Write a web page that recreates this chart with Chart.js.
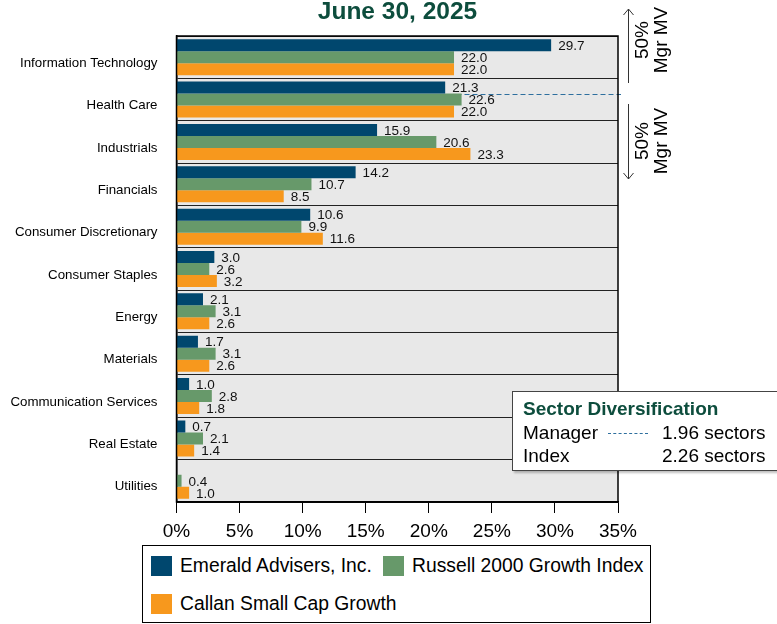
<!DOCTYPE html>
<html><head><meta charset="utf-8">
<script src="https://cdn.jsdelivr.net/npm/chart.js"></script>
<style>
html,body{margin:0;padding:0;background:#fff;}
#wrap{position:relative;width:777px;height:624px;overflow:hidden;font-family:"Liberation Sans",Arial,sans-serif;color:#000;}
#c{position:absolute;left:0;top:0;}
.abs{position:absolute;white-space:nowrap;}
.rot{position:absolute;width:90px;height:40px;text-align:center;font-size:19px;line-height:19px;transform:rotate(-90deg);transform-origin:50% 50%;}
.sw{position:absolute;width:21px;height:20px;}
.lt{position:absolute;font-size:19.3px;line-height:20px;}
</style></head><body>
<div id="wrap">
<canvas id="c" width="777" height="624"></canvas>
<div class="abs" style="left:0;width:795px;top:-3px;text-align:center;font-weight:bold;font-size:24.5px;line-height:28px;color:#0d4d3d;">June 30, 2025</div>
<div class="rot" style="left:607px;top:20px;">50%<br>Mgr MV</div>
<div class="rot" style="left:607px;top:121px;">50%<br>Mgr MV</div>
<div class="abs" style="left:512px;top:391px;width:268px;height:78px;border:1px solid #444;background:#fff;box-shadow:2px 2px 2px rgba(0,0,0,0.25);">
  <div class="abs" style="left:10px;top:6px;font-weight:bold;font-size:19px;line-height:22px;color:#0d4d3d;">Sector Diversification</div>
  <div class="abs" style="left:10px;top:30px;font-size:19px;line-height:22px;">Manager</div>
  <div class="abs" style="left:95px;top:41px;width:40px;border-top:1.5px dashed #2e6f9e;"></div>
  <div class="abs" style="left:149px;top:30px;font-size:19px;line-height:22px;">1.96 sectors</div>
  <div class="abs" style="left:10px;top:53px;font-size:19px;line-height:22px;">Index</div>
  <div class="abs" style="left:149px;top:53px;font-size:19px;line-height:22px;">2.26 sectors</div>
</div>
<div class="abs" style="left:142px;top:545px;width:507px;height:76px;border:1px solid #000;background:#fff;">
  <div class="sw" style="left:8px;top:10px;background:#00476e;"></div>
  <div class="lt" style="left:37px;top:10px;">Emerald Advisers, Inc.</div>
  <div class="sw" style="left:240px;top:10px;background:#67996a;"></div>
  <div class="lt" style="left:269px;top:10px;">Russell 2000 Growth Index</div>
  <div class="sw" style="left:8px;top:48px;background:#f7981d;"></div>
  <div class="lt" style="left:37px;top:48px;">Callan Small Cap Growth</div>
</div>
</div>
<script>
const categories = ["Information Technology","Health Care","Industrials","Financials","Consumer Discretionary","Consumer Staples","Energy","Materials","Communication Services","Real Estate","Utilities"];
const managerValues = [29.7,21.3,15.9,14.2,10.6,3.0,2.1,1.7,1.0,0.7,null];
const indexValues = [22.0,22.6,20.6,10.7,9.9,2.6,3.1,3.1,2.8,2.1,0.4];
const peerValues = [22.0,22.0,23.3,8.5,11.6,3.2,2.6,2.6,1.8,1.4,1.0];
const seriesNames = ["Emerald Advisers, Inc.","Russell 2000 Growth Index","Callan Small Cap Growth"];
const xTicks = [0,5,10,15,20,25,30,35];
const managerDashPos = 0.87; // position on category scale of 50% manager MV line

const colors = ["#00476e","#67996a","#f7981d"];

const plotDeco = {
  id:'plotDeco',
  beforeDatasetsDraw(chart){
    const {ctx, chartArea:a, scales:{y}} = chart;
    ctx.save();
    const p0 = y.getPixelForValue(0), p1 = y.getPixelForValue(1);
    const yy = p0 + managerDashPos*(p1-p0);
    ctx.strokeStyle = '#2e6f9e'; ctx.lineWidth = 1; ctx.setLineDash([5,3]);
    ctx.beginPath(); ctx.moveTo(a.left, Math.round(yy)+0.5); ctx.lineTo(a.right+3, Math.round(yy)+0.5); ctx.stroke();
    ctx.restore();
  },
  beforeDraw(chart){
    const {ctx, chartArea:a} = chart;
    ctx.save(); ctx.fillStyle = '#e8e8e8';
    ctx.fillRect(a.left, a.top, a.right-a.left, a.bottom-a.top);
    ctx.restore();
  },
  afterDraw(chart){
    const {ctx, chartArea:a} = chart;
    ctx.save();
    ctx.strokeStyle = '#000'; ctx.lineWidth = 1.5;
    ctx.strokeRect(a.left, a.top, a.right-a.left, a.bottom-a.top);
    ctx.strokeStyle = '#333'; ctx.lineWidth = 1;
    const ax = 628.5;
    ctx.beginPath();
    ctx.moveTo(ax, 9); ctx.lineTo(ax, 83);
    ctx.moveTo(ax-5, 15); ctx.lineTo(ax, 9); ctx.lineTo(ax+5, 15);
    ctx.moveTo(ax, 104); ctx.lineTo(ax, 179);
    ctx.moveTo(ax-5, 173); ctx.lineTo(ax, 179); ctx.lineTo(ax+5, 173);
    ctx.stroke();
    ctx.restore();
  },
  afterDatasetsDraw(chart){
    const ctx = chart.ctx;
    ctx.save();
    ctx.font = '13.5px "Liberation Sans", Arial, sans-serif';
    ctx.fillStyle = '#111'; ctx.textAlign = 'left'; ctx.textBaseline = 'middle';
    chart.data.datasets.forEach((ds, di) => {
      const meta = chart.getDatasetMeta(di);
      meta.data.forEach((el, i) => {
        const v = ds.data[i];
        if (v === null || v === undefined) return;
        ctx.fillText(v.toFixed(1), el.x + 7, el.y + 1);
      });
    });
    ctx.restore();
  }
};

new Chart(document.getElementById('c'), {
  type:'bar',
  data:{
    labels: categories,
    datasets:[
      {label:seriesNames[0], data:managerValues, backgroundColor:colors[0]},
      {label:seriesNames[1], data:indexValues, backgroundColor:colors[1]},
      {label:seriesNames[2], data:peerValues, backgroundColor:colors[2]}
    ]
  },
  options:{
    indexAxis:'y',
    responsive:false,
    animation:false,
    devicePixelRatio:1,
    categoryPercentage:0.85,
    barPercentage:1.0,
    layout:{padding:{left:0,right:159,top:36,bottom:82}},
    plugins:{legend:{display:false},tooltip:{enabled:false},title:{display:false}},
    scales:{
      x:{
        min:0,max:35,
        afterBuildTicks(s){ s.ticks = xTicks.map(v=>({value:v})); },
        afterFit(s){ s.height = 40; },
        grid:{drawOnChartArea:false, drawTicks:true, tickLength:11, color:'#000', lineWidth:1},
        border:{display:true,color:'#000',width:1.5},
        ticks:{padding:7,color:'#000',font:{size:19,family:'"Liberation Sans", Arial, sans-serif'},callback:(v)=>v+'%',maxRotation:0}
      },
      y:{
        afterFit(s){ s.width = 176.5; },
        grid:{offset:true, drawTicks:false, color:'#222', lineWidth:1},
        border:{display:true,color:'#000',width:1.5},
        ticks:{padding:19,labelOffset:6,color:'#000',font:{size:13.3,family:'"Liberation Sans", Arial, sans-serif'}}
      }
    }
  },
  plugins:[plotDeco]
});
</script>
</body></html>
